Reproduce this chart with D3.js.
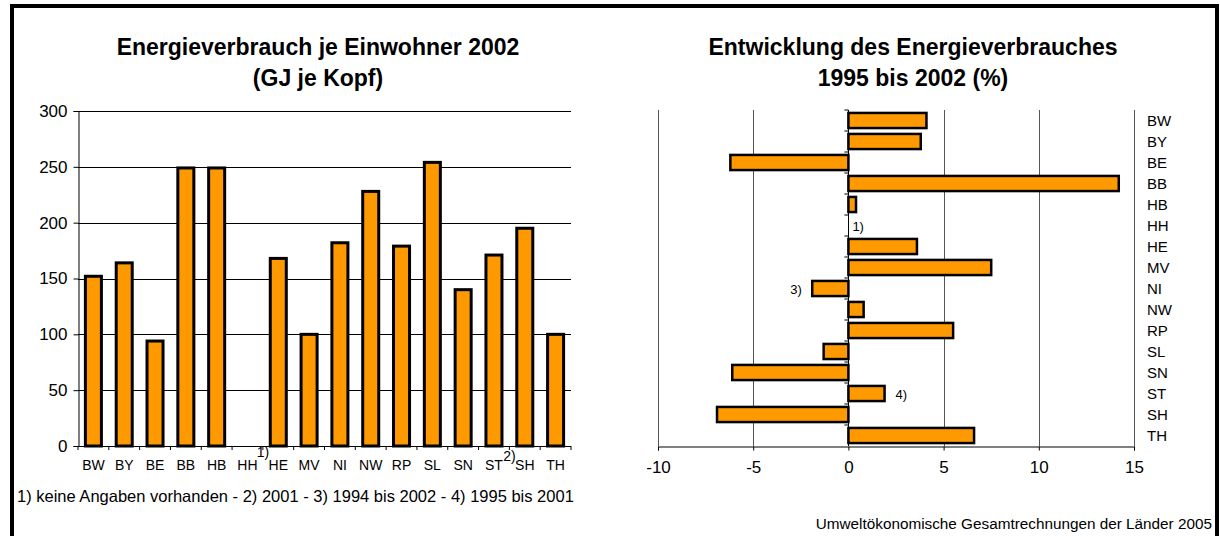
<!DOCTYPE html>
<html><head><meta charset="utf-8">
<script src="https://cdn.jsdelivr.net/npm/d3@7"></script>
<style>
html,body{margin:0;padding:0;background:#fff;}
svg text{font-family:"Liberation Sans",Arial,sans-serif;fill:#000;}
</style></head>
<body><svg id="c" width="1220" height="536"></svg>
<script>
const categories = ["BW","BY","BE","BB","HB","HH","HE","MV","NI","NW","RP","SL","SN","ST","SH","TH"];
const perCapita2002 = [152,164,94,249,249,null,168,100,182,228,179,254,140,171,195,100];
const change1995to2002 = [4.1,3.8,-6.2,14.2,0.4,null,3.6,7.5,-1.9,0.8,5.5,-1.3,-6.1,1.9,-6.9,6.6];
const leftTicks = [0,50,100,150,200,250,300];
const rightTicks = [-10,-5,0,5,10,15];
const leftTitle = ["Energieverbrauch je Einwohner 2002","(GJ je Kopf)"];
const rightTitle = ["Entwicklung des Energieverbrauches","1995 bis 2002 (%)"];
const footnote = "1) keine Angaben vorhanden - 2) 2001 - 3) 1994 bis 2002 - 4) 1995 bis 2001";
const source = "Umweltökonomische Gesamtrechnungen der Länder 2005";
const leftNotes = [{after:"HH", text:"1)"},{after:"ST", text:"2)"}];
const rightNotes = [{cat:"HH", text:"1)"},{cat:"NI", text:"3)"},{cat:"ST", text:"4)"}];

const ORANGE = "#FF9900";
const FONT = "Liberation Sans, Arial, sans-serif";
const svg = d3.select("#c");
svg.append("rect").attr("width",1220).attr("height",536).attr("fill","#fff");
svg.append("rect").attr("x",12).attr("y",6).attr("width",1205).attr("height",540)
  .attr("fill","none").attr("stroke","#000").attr("stroke-width",4);

// ---------- Left chart ----------
const L = {x0:78, x1:571, y0:446, y1:111};
const xL = d3.scaleBand().domain(categories).range([L.x0,L.x1]).paddingInner(0.48).paddingOuter(0.24);
const yL = d3.scaleLinear().domain([0,300]).range([L.y0,L.y1]);
const gL = svg.append("g");
gL.selectAll("text.t").data(leftTitle).join("text")
  .attr("x",318).attr("y",(d,i)=>55+i*31).attr("text-anchor","middle")
  .attr("font-size",23).attr("font-weight","bold").text(d=>d);
gL.append("g").selectAll("line").data(leftTicks.filter(t=>t>0)).join("line")
  .attr("x1",L.x0).attr("x2",L.x1).attr("y1",d=>Math.round(yL(d))+0.5).attr("y2",d=>Math.round(yL(d))+0.5)
  .attr("stroke","#000").attr("stroke-width",1);
const ay = gL.append("g").attr("transform",`translate(${L.x0+0.5},0)`)
  .call(d3.axisLeft(yL).tickValues(leftTicks).tickSize(5).tickPadding(6).tickFormat(d=>String(d)));
ay.select(".domain").attr("stroke","#000");
ay.selectAll("text").attr("font-size",17).attr("font-family",FONT).attr("fill","#000");
const stepL = xL.step(), gapL = stepL*xL.paddingInner()/2;
gL.append("g").selectAll("rect").data(categories.map((c,i)=>({c,v:perCapita2002[i]})).filter(d=>d.v!=null)).join("rect")
  .attr("x",d=>xL(d.c)).attr("width",xL.bandwidth())
  .attr("y",d=>yL(d.v)).attr("height",d=>yL(0)-yL(d.v))
  .attr("fill",ORANGE).attr("stroke","#000").attr("stroke-width",3);
gL.append("line").attr("x1",L.x0).attr("x2",L.x1).attr("y1",yL(0)+0.5).attr("y2",yL(0)+0.5).attr("stroke","#000");
const bounds = categories.map(c=>xL(c)-gapL).concat([L.x1]);
gL.append("g").selectAll("line").data(bounds).join("line")
  .attr("x1",d=>d).attr("x2",d=>d).attr("y1",yL(0)).attr("y2",yL(0)+4).attr("stroke","#000");
gL.append("g").selectAll("text").data(categories).join("text")
  .attr("x",d=>xL(d)+xL.bandwidth()/2).attr("y",470).attr("text-anchor","middle")
  .attr("font-size",14).text(d=>d);
gL.append("g").selectAll("text").data(leftNotes).join("text")
  .attr("x",d=>xL(d.after)+xL.bandwidth()+gapL).attr("y",d=>d.after==="HH"?457:461).attr("text-anchor","middle")
  .attr("font-size",14).text(d=>d.text);
gL.append("text").attr("x",17).attr("y",502).attr("font-size",16.5).text(footnote);

// ---------- Right chart ----------
const R = {x0:658, x1:1134, y0:110, y1:446};
const xR = d3.scaleLinear().domain([-10,15]).range([R.x0,R.x1]);
const yR = d3.scaleBand().domain(categories).range([R.y0,R.y1]).paddingInner(0.28).paddingOuter(0.14);
const gR = svg.append("g");
gR.selectAll("text.t").data(rightTitle).join("text")
  .attr("x",913).attr("y",(d,i)=>55+i*31).attr("text-anchor","middle")
  .attr("font-size",23).attr("font-weight","bold").text(d=>d);
gR.append("g").selectAll("line").data(rightTicks.filter(t=>t!==0)).join("line")
  .attr("x1",d=>Math.round(xR(d))+0.5).attr("x2",d=>Math.round(xR(d))+0.5)
  .attr("y1",R.y0).attr("y2",R.y1).attr("stroke","#555").attr("stroke-width",1);
const ax = gR.append("g").attr("transform",`translate(0,${R.y1+0.5})`)
  .call(d3.axisBottom(xR).tickValues(rightTicks).tickSize(4).tickPadding(10).tickFormat(d=>String(d)));
ax.select(".domain").attr("stroke","#000");
ax.selectAll("text").attr("font-size",17).attr("font-family",FONT).attr("fill","#000");
gR.append("g").selectAll("rect").data(categories.map((c,i)=>({c,v:change1995to2002[i]})).filter(d=>d.v!=null)).join("rect")
  .attr("x",d=>xR(Math.min(0,d.v))).attr("width",d=>Math.abs(xR(d.v)-xR(0)))
  .attr("y",d=>yR(d.c)).attr("height",yR.bandwidth())
  .attr("fill",ORANGE).attr("stroke","#000").attr("stroke-width",2.5);
const gapR = yR.step()*yR.paddingInner()/2;
gR.append("line").attr("x1",Math.round(xR(0))+0.5).attr("x2",Math.round(xR(0))+0.5).attr("y1",R.y0).attr("y2",R.y1).attr("stroke","#000");
gR.append("g").selectAll("line").data(categories.map(c=>yR(c)-gapR)).join("line")
  .attr("x1",xR(0)-4).attr("x2",xR(0)).attr("y1",d=>d).attr("y2",d=>d).attr("stroke","#000");
gR.append("g").selectAll("text").data(categories).join("text")
  .attr("x",1147).attr("y",d=>yR(d)+yR.bandwidth()/2+5).attr("font-size",15).text(d=>d);
gR.append("g").selectAll("text").data(rightNotes).join("text")
  .attr("x",d=>{const v=change1995to2002[categories.indexOf(d.cat)];
     if(v==null) return xR(0)+4; return v<0? xR(v)-22 : xR(v)+11;})
  .attr("y",d=>yR(d.cat)+yR.bandwidth()/2+5).attr("font-size",13)
  .attr("text-anchor","start").text(d=>d.text);

svg.append("text").attr("x",1212).attr("y",529).attr("text-anchor","end").attr("font-size",15.3).text(source);
</script></body></html>
